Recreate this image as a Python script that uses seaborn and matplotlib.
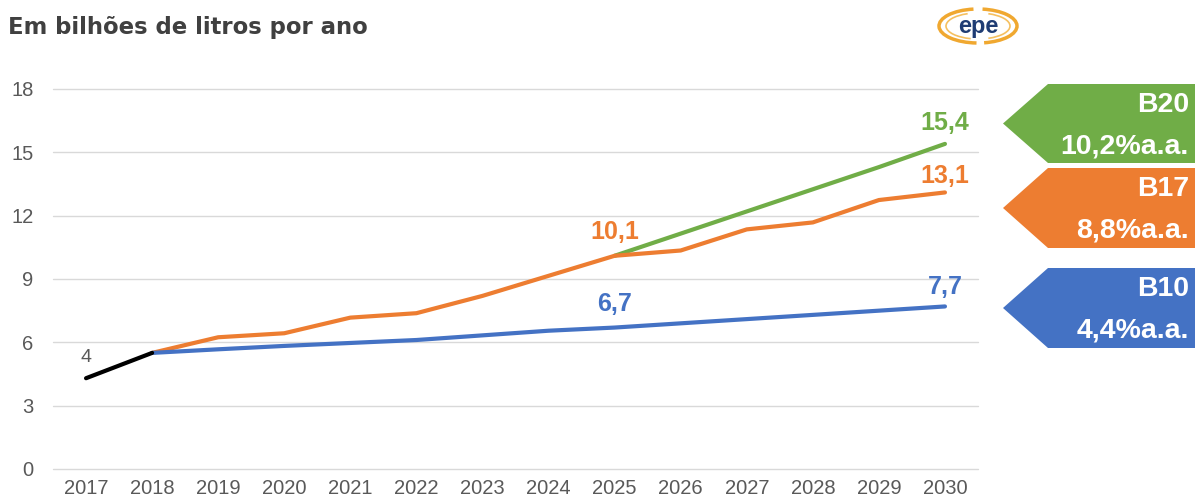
import os
import numpy as np
import pandas as pd
import matplotlib
matplotlib.use("Agg")
import matplotlib.pyplot as plt
import matplotlib.font_manager as fm
from matplotlib.patches import Polygon, Arc
import seaborn as sns

# ---- data ----
years_hist = [2017, 2018]
hist_vals = [4.3, 5.5]

years_proj = list(range(2018, 2031))
b10_vals = [5.5, 5.67, 5.83, 5.97, 6.11, 6.33, 6.55, 6.7, 6.9, 7.1, 7.3, 7.5, 7.7]
b17_vals = [5.5, 6.24, 6.43, 7.17, 7.38, 8.2, 9.15, 10.1, 10.35, 11.35, 11.68, 12.74, 13.1]

years_b20 = list(range(2025, 2031))
b20_vals = [10.1, 11.15, 12.2, 13.25, 14.3, 15.4]

year_ticks = list(range(2017, 2031))
y_ticks = [0, 3, 6, 9, 12, 15, 18]

title = "Em bilhões de litros por ano"
box_names = ["B20", "B17", "B10"]
box_rates = ["10,2%a.a.", "8,8%a.a.", "4,4%a.a."]

GREEN = "#70AD47"
ORANGE = "#ED7D31"
BLUE = "#4472C4"
BLACK = "#000000"
GRAY = "#595959"

sns.set_theme(style="white")
plt.rcParams['font.family'] = ['Liberation Sans', 'DejaVu Sans']


def find_font(basename):
    for f in fm.fontManager.ttflist:
        if os.path.basename(f.fname).lower() == basename.lower():
            return f.fname
    return None


bold_path = find_font("LiberationSans-Bold.ttf")
reg_path = find_font("LiberationSans-Regular.ttf")


def bold_fp(size):
    if bold_path:
        return fm.FontProperties(fname=bold_path, size=size)
    return fm.FontProperties(family="DejaVu Sans", weight="bold", size=size)


def reg_fp(size):
    if reg_path:
        return fm.FontProperties(fname=reg_path, size=size)
    return fm.FontProperties(family="DejaVu Sans", size=size)


W, H = 1195, 501
fig = plt.figure(figsize=(W / 100, H / 100), dpi=100)


def px(x0, y0, x1, y1):
    return [x0 / W, 1 - y1 / H, (x1 - x0) / W, (y1 - y0) / H]


ax = fig.add_axes(px(53, 89, 978, 469))

df = pd.concat([
    pd.DataFrame({"ano": years_b20, "valor": b20_vals, "serie": "B20"}),
    pd.DataFrame({"ano": years_proj, "valor": b17_vals, "serie": "B17"}),
    pd.DataFrame({"ano": years_proj, "valor": b10_vals, "serie": "B10"}),
    pd.DataFrame({"ano": years_hist, "valor": hist_vals, "serie": "Hist"}),
])
palette = {"B20": GREEN, "B17": ORANGE, "B10": BLUE, "Hist": BLACK}
for s in ["B20", "B17", "B10", "Hist"]:
    sns.lineplot(data=df[df.serie == s], x="ano", y="valor", color=palette[s],
                 lw=3.0, ax=ax, legend=False, solid_capstyle="round")

ax.set_xlim(2016.5, 2030.5)
ax.set_ylim(0, 18)
ax.set_xticks(year_ticks)
ax.set_xticklabels([str(y) for y in year_ticks])
ax.set_yticks(y_ticks)
ax.set_yticklabels([str(v) for v in y_ticks])
ax.tick_params(axis="both", length=0, colors=GRAY)
for lbl in ax.get_xticklabels() + ax.get_yticklabels():
    lbl.set_fontproperties(reg_fp(14.5))
    lbl.set_color(GRAY)
ax.tick_params(axis="y", pad=14)
ax.tick_params(axis="x", pad=7)
ax.yaxis.grid(True, color="#d9d9d9", lw=1)
ax.set_axisbelow(True)
for sp in ax.spines.values():
    sp.set_visible(False)
ax.set_xlabel("")
ax.set_ylabel("")
for gl in ax.get_ygridlines():
    gl.set_clip_on(False)

# data labels
def lab(text, xy, dy, color):
    ax.annotate(text, xy, xytext=(0, dy), textcoords="offset points", color=color,
                ha="center", va="center", fontproperties=bold_fp(18))

lab("15,4", (2030, b20_vals[-1]), 15, GREEN)
lab("13,1", (2030, b17_vals[-1]), 12, ORANGE)
lab("10,1", (2025, b17_vals[7]), 17, ORANGE)
lab("6,7", (2025, b10_vals[7]), 17, BLUE)
lab("7,7", (2030, b10_vals[-1]), 14, BLUE)
ax.annotate("4", (2017, hist_vals[0]), xytext=(0, 15), textcoords="offset points",
            color=GRAY, ha="center", va="center", fontproperties=reg_fp(14))

# overlay in pixel coordinates
ov = fig.add_axes([0, 0, 1, 1], zorder=5)
ov.set_xlim(0, W)
ov.set_ylim(H, 0)
ov.axis("off")
ov.patch.set_alpha(0)

ov.text(8, 27, title, ha="left", va="center", fontsize=16.4, fontweight="bold",
        color="#404040", family=["DejaVu Sans"])

# logo
ov.add_patch(Arc((978, 26), 78, 34, theta1=95, theta2=255, color="#F0A830", lw=2.5))
ov.add_patch(Arc((978, 26), 78, 34, theta1=-75, theta2=70, color="#F0A830", lw=2.5))
ov.add_patch(Arc((978, 26), 64, 26, theta1=120, theta2=230, color="#F5C060", lw=1.2))
ov.add_patch(Arc((978, 26), 64, 26, theta1=-50, theta2=50, color="#F5C060", lw=1.2))
ov.text(978, 26, "epe", ha="center", va="center", fontproperties=bold_fp(17), color="#1F3C73")

# arrow boxes
boxes = [(84, 163, GREEN), (168, 248, ORANGE), (268, 348, BLUE)]
for (y0, y1, c), name, rate in zip(boxes, box_names, box_rates):
    ym = (y0 + y1) / 2
    ov.add_patch(Polygon([(1003, ym), (1048, y0), (1195, y0), (1195, y1), (1048, y1)],
                         closed=True, facecolor=c, edgecolor="none"))
    ov.text(1189, y0 + 21, name, ha="right", va="center", fontproperties=bold_fp(20.5),
            color="white")
    ov.text(1189, y1 - 17, rate, ha="right", va="center", fontproperties=bold_fp(20.5),
            color="white")

fig.savefig("out.png", dpi=100, facecolor="white")
